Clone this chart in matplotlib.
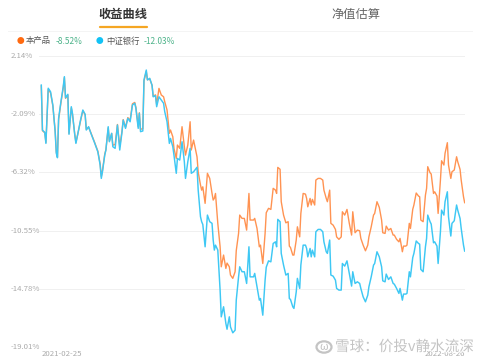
import numpy as np
import matplotlib
matplotlib.use("Agg")
import matplotlib.pyplot as plt
from matplotlib.patches import Circle
import matplotlib.patheffects as pe

plt.rcParams['font.family'] = ['Noto Sans CJK SC', 'DejaVu Sans']

# trading-day index of each sampled point
day = [0, 1, 3, 4, 6, 8, 10, 12, 13, 14, 15, 17, 19, 20, 21, 23, 24, 26, 27, 29,
       30, 32, 34, 36, 38, 39, 41, 43, 46, 49, 51, 52, 53, 55, 56, 58, 59, 61, 62, 64,
       66, 68, 70, 71, 73, 75, 77, 79, 81, 82, 84, 85, 86, 88, 89, 91, 92, 94, 96, 97,
       99, 100, 102, 104, 106, 107, 109, 111, 112, 114, 115, 117, 118, 120, 122, 124, 125, 127, 129, 130,
       132, 135, 136, 138, 139, 140, 142, 144, 146, 148, 149, 150, 151, 153, 155, 156, 158, 160, 161, 163,
       164, 166, 168, 169, 171, 172, 174, 176, 178, 180, 181, 184, 185, 187, 189, 190, 192, 194, 195, 197,
       199, 201, 203, 204, 205, 207, 208, 210, 212, 214, 215, 216, 218, 219, 221, 222, 224, 225, 227, 229,
       230, 231, 233, 234, 235, 237, 238, 240, 242, 244, 245, 247, 248, 250, 251, 253, 255, 256, 258, 260,
       261, 263, 265, 267, 269, 270, 272, 274, 276, 277, 279, 281, 283, 284, 286, 288, 289, 291, 293, 295,
       296, 298, 299, 301, 303, 305, 306, 308, 310, 311, 313, 314, 316, 317, 319, 320, 322, 323, 325, 327,
       328, 329, 331, 333, 334, 335, 337, 338, 340, 341, 343, 344, 346, 347, 349, 350, 352, 353, 355, 356,
       358, 360, 361, 363, 364, 366, 367]

# 中证银行 (%)
bank = [0.01, -3.26, -3.42, -4.22, -0.22, -0.47, -1.44, -3.37, -4.94, -5.26, -2.40, -1.20, -0.11, 0.62, -0.91, -0.66, -3.56, -1.56, -2.04, -3.61,
        -4.22, -3.37, -2.53, -1.80, -2.11, -3.25, -3.01, -3.49, -4.14, -4.83, -5.79, -6.76, -6.28, -5.07, -4.70, -3.01, -4.10, -3.49, -4.46, -4.58,
        -2.89, -4.70, -3.37, -2.53, -3.13, -2.40, -2.65, -1.44, -1.31, -1.68, -3.13, -2.04, -3.37, -3.32, 0.38, 1.10, 0.38, 0.50, -0.01, -0.84,
        -0.76, -1.56, -0.84, -1.08, -1.31, -1.92, -2.65, -4.22, -3.86, -4.46, -5.07, -6.39, -5.31, -5.43, -4.10, -5.55, -6.76, -5.55, -4.58, -6.39,
        -6.28, -5.95, -7.61, -9.54, -9.90, -10.10, -11.72, -9.42, -9.90, -10.02, -11.23, -11.96, -11.60, -11.96, -14.86, -16.80, -16.07, -17.28, -17.70, -16.80,
        -17.53, -17.96, -17.77, -15.59, -13.90, -13.17, -13.53, -13.53, -14.38, -11.72, -13.90, -13.90, -13.65, -14.62, -15.59, -15.47, -16.68, -14.14, -13.20, -12.74,
        -12.81, -11.48, -11.36, -11.72, -9.73, -9.90, -12.20, -13.05, -13.77, -13.65, -15.47, -15.54, -16.07, -16.19, -14.99, -14.01, -14.74, -13.05, -11.60, -11.60,
        -11.84, -12.45, -11.84, -12.45, -11.96, -12.45, -10.63, -10.46, -10.46, -10.63, -11.36, -12.08, -12.20, -11.23, -13.77, -13.85, -14.14, -14.74, -14.86, -14.86,
        -12.93, -13.12, -12.74, -13.65, -14.57, -13.53, -14.38, -14.26, -14.38, -14.74, -15.35, -15.71, -15.23, -14.62, -13.90, -13.05, -12.93, -12.08, -12.45, -13.17,
        -14.19, -14.26, -13.70, -14.09, -13.90, -14.38, -14.43, -14.74, -15.10, -14.74, -15.59, -15.15, -15.15, -15.10, -13.53, -13.90, -12.50, -12.20, -11.30, -11.48,
        -11.53, -13.36, -13.53, -11.72, -11.11, -9.42, -9.90, -10.07, -11.43, -11.36, -11.67, -12.93, -10.63, -9.06, -9.42, -8.45, -7.73, -9.54, -10.94, -10.02,
        -9.83, -8.69, -9.06, -9.66, -10.39, -11.60, -12.03]

# 本产品 (%)
product = [-0.05, -3.30, -3.45, -4.15, -0.30, -0.55, -1.50, -3.30, -4.85, -5.20, -2.50, -1.28, -0.20, 0.55, -0.95, -0.72, -3.50, -1.65, -2.10, -3.55,
           -4.15, -3.40, -2.60, -1.85, -2.15, -3.20, -3.05, -3.45, -4.10, -4.78, -5.70, -6.62, -6.20, -5.00, -4.68, -3.10, -4.05, -3.50, -4.35, -4.30,
           -2.85, -4.45, -3.30, -2.50, -3.05, -2.35, -2.55, -1.35, -1.25, -1.60, -3.00, -2.00, -3.20, -3.15, 0.30, 1.00, 0.40, 0.45, 0.00, -0.80,
           -0.70, -1.40, -0.23, -0.71, -0.84, -1.20, -1.80, -3.49, -3.25, -3.74, -4.58, -5.31, -4.34, -4.58, -3.01, -4.46, -5.07, -4.34, -2.65, -4.70,
           -3.98, -5.20, -6.30, -7.24, -7.61, -7.37, -8.57, -6.39, -6.76, -7.85, -8.33, -8.20, -7.85, -10.02, -11.72, -13.17, -12.32, -13.29, -12.90, -13.17,
           -13.77, -14.01, -13.53, -12.00, -10.75, -9.42, -9.66, -9.66, -10.51, -7.85, -9.78, -9.78, -9.66, -10.39, -11.72, -11.60, -12.93, -10.75, -9.25, -8.93,
           -9.01, -7.48, -7.61, -7.85, -5.96, -6.10, -8.45, -9.42, -9.98, -9.90, -11.67, -11.77, -12.32, -12.32, -11.23, -10.27, -11.00, -9.30, -7.85, -7.90,
           -8.21, -8.82, -8.21, -8.69, -8.28, -8.69, -6.88, -6.76, -6.76, -6.88, -7.61, -8.21, -8.45, -7.61, -10.02, -10.15, -10.46, -11.00, -11.18, -11.00,
           -9.18, -9.42, -9.01, -10.02, -10.87, -9.18, -10.70, -10.51, -10.56, -11.11, -11.60, -12.01, -11.60, -11.00, -10.27, -9.42, -9.30, -8.45, -8.86, -9.78,
           -10.70, -10.75, -10.22, -10.51, -10.39, -10.87, -10.87, -11.18, -11.36, -11.11, -12.08, -11.67, -11.67, -11.60, -10.02, -10.39, -9.00, -8.69, -7.82, -8.04,
           -8.09, -9.78, -9.90, -7.97, -7.48, -5.91, -6.35, -6.44, -7.85, -7.73, -8.04, -9.30, -6.88, -5.48, -5.79, -4.94, -4.17, -5.79, -6.76, -6.28,
           -6.15, -5.19, -5.55, -6.10, -6.88, -8.09, -8.52]

yticks = [2.14, -2.09, -6.32, -10.55, -14.78, -19.01]
date_first = "2021-02-25"
date_last = "2022-08-26"

W, H = 480, 363
fig = plt.figure(figsize=(W / 100, H / 100), dpi=100)
fig.patch.set_facecolor("white")


def fx(px):
    return px / W


def fy(py):
    return 1 - py / H


# tabs
fig.text(fx(123), fy(14), "收益曲线", fontsize=8.8, fontweight="bold", color="#333333",
         ha="center", va="center")
fig.text(fx(356), fy(14), "净值估算", fontsize=8.8, color="#666666", ha="center", va="center")
fig.add_artist(plt.Line2D([fx(100), fx(147)], [fy(27), fy(27)], color="#f5a623", lw=1.6,
                          solid_capstyle="round"))
fig.add_artist(plt.Line2D([fx(8), fx(472)], [fy(30.5), fy(30.5)], color="#f2f2f2", lw=0.6))

# legend
fig.text(fx(20), fy(41), "●", fontsize=5.5, color="#ff6a10", ha="center", va="center")
fig.text(fx(26), fy(41), "本产品", fontsize=6.0, color="#555555", ha="left", va="center")
fig.text(fx(56), fy(41), "-8.52%", fontsize=6.0, color="#4db38a", ha="left", va="center")
fig.text(fx(99), fy(41), "●", fontsize=5.5, color="#12c2f5", ha="center", va="center")
fig.text(fx(106), fy(41), "中证银行", fontsize=6.0, color="#555555", ha="left", va="center")
fig.text(fx(144), fy(41), "-12.03%", fontsize=6.0, color="#4db38a", ha="left", va="center")

ax = fig.add_axes([fx(39), fy(347.3), fx(465) - fx(39), fy(55.7) - fy(347.3)])
ax.set_xlim(-2, 367.3)
ax.set_ylim(yticks[-1], yticks[0])
for s in ax.spines.values():
    s.set_visible(False)
ax.set_xticks([])
ax.set_yticks([])
for t in yticks:
    ax.axhline(t, color="#f0f0f0", lw=0.7, zorder=0)
    fig.text(fx(11), ax.transData.transform((0, t))[1] / H, f"{t:.2f}%", fontsize=5.6,
             color="#aaaaaa", ha="left", va="center")

ax.plot(day, product, color="#ff9352", lw=1.0, zorder=2)
ax.plot(day, bank, color="#3ec8f4", lw=1.05, zorder=3)

fig.text(fx(42), fy(354), date_first, fontsize=5.6, color="#aaaaaa", ha="left", va="center")
fig.text(fx(465), fy(354), date_last, fontsize=5.6, color="#aaaaaa", ha="right", va="center")

# watermark (drawn over the last date label, as in the source screenshot)
wm_fx = [pe.withStroke(linewidth=1.5, foreground="white")]
fig.text(fx(335), fy(347), "雪球：价投v静水流深", fontsize=10.5, color="#c4c4c4", ha="left",
         va="center", path_effects=wm_fx, zorder=10)
fig.add_artist(Circle((fx(324), fy(347)), 7.5 / W, transform=fig.transFigure, fill=False,
                      ec="#c4c4c4", lw=1.6, zorder=10))
fig.text(fx(324), fy(347.5), "ω", fontsize=8, color="#c4c4c4", ha="center", va="center", zorder=10)

fig.savefig("out.png", dpi=100)
